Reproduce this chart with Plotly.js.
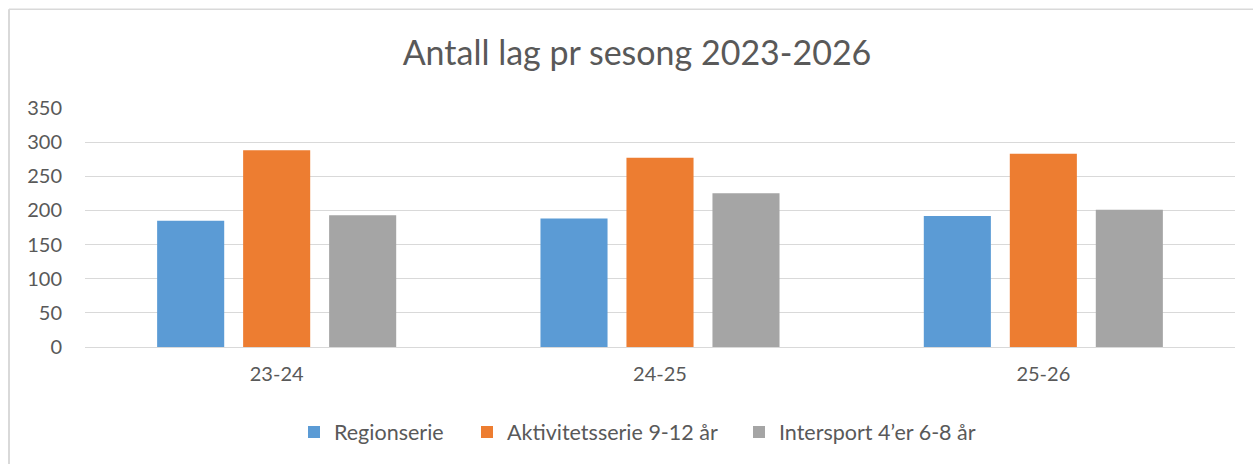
<!DOCTYPE html>
<html>
<head>
<meta charset="utf-8">
<script src="https://cdn.plot.ly/plotly-3.0.1.min.js"></script>
<style>
  html, body { margin: 0; padding: 0; background: #fff; }
  #chart { width: 1253px; height: 464px; }
</style>
</head>
<body>
<div id="chart"></div>
<script>
const categories = ["23-24", "24-25", "25-26"];
const regionserie = [185, 188, 192];
const aktivitetsserie = [288, 277, 283];
const intersport = [193, 225, 201];
const seriesNames = ["Regionserie", "Aktivitetsserie 9-12 år", "Intersport 4\u2019er 6-8 år"];
const yTicks = [0, 50, 100, 150, 200, 250, 300, 350];

const colors = ["#5B9BD5", "#ED7D31", "#A5A5A5"];
const textColor = "#595959";
const fontFam = "Lato, 'Open Sans', sans-serif";
const legendIds = ["legend", "legend2", "legend3"];
const legendLeftPx = [308, 481, 753];

const data = [regionserie, aktivitetsserie, intersport].map((vals, i) => ({
  type: "bar",
  x: categories,
  y: vals,
  name: seriesNames[i],
  legend: legendIds[i],
  marker: { color: colors[i] },
  hoverinfo: "skip"
}));

const layout = {
  width: 1253,
  height: 464,
  paper_bgcolor: "#ffffff",
  plot_bgcolor: "#ffffff",
  font: { family: fontFam, color: textColor, size: 18 },
  margin: { l: 85, r: 18, t: 107.7, b: 117.3, pad: 0 },
  title: {
    text: "Antall lag pr sesong 2023-2026",
    font: { family: fontFam, size: 34, color: textColor },
    x: (404 + 870) / 2 / 1253, xref: "container", xanchor: "center",
    y: 1 - 53 / 464, yref: "container", yanchor: "middle"
  },
  barmode: "group",
  bargap: 0.327,
  bargroupgap: 0.22,
  xaxis: {
    type: "category",
    showgrid: false,
    showline: false,
    ticks: "",
    ticklabelstandoff: 13,
    tickfont: { family: fontFam, size: 20, color: textColor }
  },
  yaxis: {
    range: [0, 350],
    tickvals: yTicks,
    ticktext: yTicks.map(String),
    showgrid: true,
    gridcolor: "#d9d9d9",
    gridwidth: 1,
    zeroline: true,
    zerolinecolor: "#d9d9d9",
    zerolinewidth: 1,
    showline: false,
    ticks: "",
    ticklabelstandoff: 22,
    tickfont: { family: fontFam, size: 20, color: textColor }
  },
  showlegend: true,
  shapes: [
    { type: "line", xref: "paper", yref: "paper",
      x0: (9 - 85) / 1150, x1: (9 - 85) / 1150, y0: -0.6, y1: 1 + (107.7 - 9) / 239,
      line: { color: "#d9d9d9", width: 2 } },
    { type: "line", xref: "paper", yref: "paper",
      x0: (9 - 85) / 1150, x1: 1.1, y0: 1 + (107.7 - 9) / 239, y1: 1 + (107.7 - 9) / 239,
      line: { color: "#d9d9d9", width: 1.5 } }
  ]
};

legendIds.forEach((id, i) => {
  layout[id] = {
    orientation: "h",
    x: (legendLeftPx[i] - 14 - 85) / 1150,
    xanchor: "left",
    y: -85 / 239,
    yanchor: "middle",
    bgcolor: "rgba(0,0,0,0)",
    font: { family: fontFam, size: 21.5, color: textColor },
    itemclick: false
  };
});

Plotly.newPlot("chart", data, layout, { displayModeBar: false, staticPlot: true });
</script>
</body>
</html>
